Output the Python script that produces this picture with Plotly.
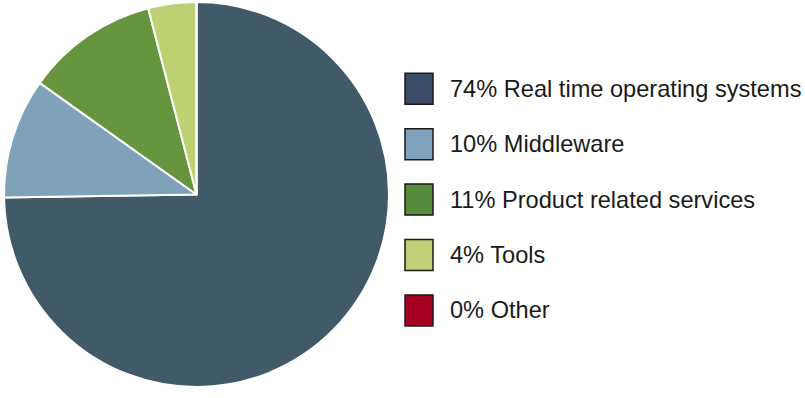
import plotly.graph_objects as go

# Data
categories = ["Real time operating systems", "Middleware", "Product related services", "Tools", "Other"]
values = [74, 10, 11, 4, 0]
pct_labels = ["74%", "10%", "11%", "4%", "0%"]
slice_colors = ["#405A68", "#7EA2BA", "#66953F", "#BDD172", "#A50021"]
legend_colors = ["#3C4B6A", "#7FA3BE", "#548B3C", "#BFD078", "#A50021"]

W, H = 805, 398

def px_x(x):
    return x / W

def px_y(y):
    return 1 - y / H

fig = go.Figure()
fig.add_trace(go.Pie(
    labels=categories,
    values=values,
    sort=False,
    direction="clockwise",
    rotation=0,
    marker=dict(colors=slice_colors, line=dict(color="white", width=2)),
    textinfo="none",
    hoverinfo="label+percent",
    showlegend=False,
    domain=dict(x=[px_x(4), px_x(389)], y=[px_y(387), px_y(2)]),
))

shapes = []
annotations = []
for i, (cat, pct, col) in enumerate(zip(categories, pct_labels, legend_colors)):
    cy = 88.8 + 55.4 * i
    shapes.append(dict(
        type="rect", xref="paper", yref="paper",
        x0=px_x(405), x1=px_x(433),
        y0=px_y(cy - 15.5), y1=px_y(cy + 15.5),
        fillcolor=col, line=dict(color="#1a1a1a", width=1.5),
    ))
    annotations.append(dict(
        x=px_x(448), y=px_y(cy), xref="paper", yref="paper",
        text=f"{pct} {cat}", showarrow=False,
        xanchor="left", yanchor="middle",
        font=dict(family="Liberation Sans, Arial, sans-serif", size=23.6, color="#1a1a1a"),
    ))

fig.update_layout(
    width=W, height=H,
    margin=dict(l=0, r=0, t=0, b=0),
    paper_bgcolor="white", plot_bgcolor="white",
    shapes=shapes, annotations=annotations,
)

fig.write_html(
    "out.html",
    config={"displayModeBar": False},
    post_script="document.body.style.margin='0';document.body.style.overflow='hidden';",
)
